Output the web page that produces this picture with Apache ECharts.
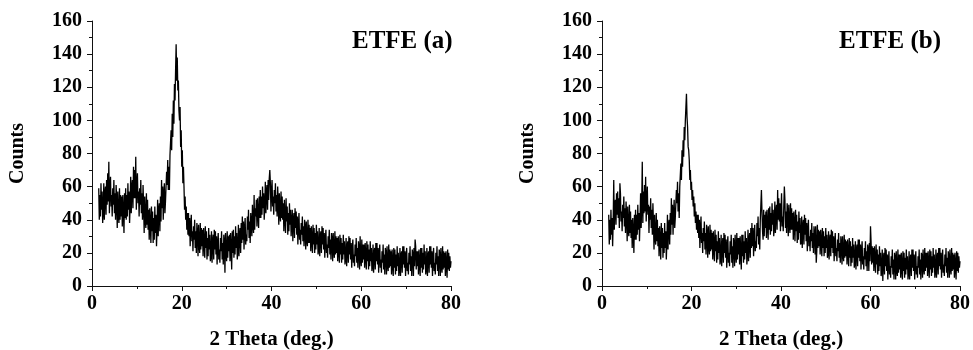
<!DOCTYPE html>
<html>
<head>
<meta charset="utf-8">
<script src="https://cdn.jsdelivr.net/npm/echarts@6/dist/echarts.min.js"></script>
<style>
  html, body { margin: 0; padding: 0; background: #fff; }
  #chart { width: 973px; height: 350px; }
</style>
</head>
<body>
<div id="chart"></div>
<script>
// XRD scans: 2-theta sampled from 1.5 deg in 0.125 deg steps, one row per degree
const thetaStart = 1.5;
const thetaStep = 0.125;

const xTicks = [0, 20, 40, 60, 80];
const yTicks = [0, 20, 40, 60, 80, 100, 120, 140, 160];

const panelTitles = ['ETFE (a)', 'ETFE (b)'];
const xAxisTitle = '2 Theta (deg.)';
const yAxisTitle = 'Counts';

const countsA = [
  59, 40, 55, 42, 62, 46, 57, 38,
  45, 62, 40, 56, 60, 43, 64, 49,
  68, 51, 75, 44, 59, 66, 48, 55,
  42, 59, 49, 64, 44, 56, 40, 61,
  52, 35, 57, 43, 38, 59, 40, 55,
  42, 54, 36, 55, 45, 32, 56, 41,
  59, 40, 55, 42, 62, 46, 57, 38,
  49, 66, 44, 60, 64, 47, 72, 53,
  70, 53, 78, 46, 61, 68, 50, 57,
  42, 59, 49, 64, 44, 56, 40, 61,
  49, 32, 54, 40, 35, 56, 37, 52,
  34, 46, 28, 47, 37, 26, 48, 33,
  45, 26, 41, 28, 48, 32, 43, 24,
  35, 52, 30, 46, 50, 33, 54, 39,
  64, 47, 60, 40, 55, 62, 44, 51,
  52, 69, 61, 76, 58, 72, 58, 79,
  78, 94, 82, 104, 90, 112, 98, 122,
  112, 130, 146, 124, 138, 118, 124, 106,
  100, 108, 84, 94, 72, 82, 62, 72,
  60, 46, 54, 40, 48, 34, 44, 31,
  44, 30, 41, 24, 36, 43, 27, 33,
  21, 36, 28, 40, 23, 33, 20, 38,
  32, 18, 37, 25, 20, 38, 22, 35,
  24, 34, 18, 35, 26, 17, 36, 23,
  33, 16, 29, 18, 35, 22, 31, 15,
  18, 33, 14, 27, 31, 16, 34, 22,
  33, 19, 30, 13, 25, 32, 16, 22,
  14, 29, 21, 33, 16, 26, 13, 31,
  27, 8, 32, 20, 15, 33, 17, 30,
  21, 31, 15, 32, 23, 10, 33, 20,
  34, 17, 30, 19, 36, 23, 32, 16,
  22, 37, 18, 31, 35, 20, 38, 26,
  42, 28, 39, 22, 34, 41, 25, 31,
  27, 42, 34, 46, 29, 39, 26, 44,
  44, 30, 49, 37, 32, 55, 34, 47,
  42, 52, 36, 53, 44, 35, 54, 41,
  58, 41, 54, 43, 60, 47, 56, 40,
  48, 63, 44, 57, 61, 46, 64, 52,
  65, 70, 62, 45, 57, 64, 48, 54,
  43, 58, 50, 62, 45, 55, 42, 60,
  51, 37, 56, 44, 39, 57, 41, 54,
  40, 50, 33, 52, 42, 32, 53, 39,
  48, 31, 44, 33, 50, 37, 46, 30,
  31, 46, 27, 40, 44, 29, 47, 35,
  45, 31, 42, 25, 37, 44, 28, 34,
  25, 38, 31, 42, 27, 36, 24, 40,
  35, 22, 39, 28, 24, 40, 26, 37,
  26, 35, 21, 36, 28, 20, 37, 25,
  35, 20, 32, 22, 37, 25, 33, 19,
  22, 35, 18, 30, 33, 20, 36, 25,
  35, 22, 32, 17, 28, 34, 20, 25,
  17, 30, 23, 34, 19, 28, 16, 32,
  28, 15, 32, 21, 17, 33, 19, 30,
  20, 29, 15, 30, 22, 14, 31, 19,
  29, 14, 26, 16, 31, 19, 27, 13,
  16, 29, 12, 24, 27, 14, 30, 19,
  29, 16, 26, 11, 22, 28, 14, 19,
  12, 25, 18, 29, 14, 23, 11, 27,
  23, 10, 30, 16, 12, 28, 14, 25,
  16, 25, 11, 26, 18, 10, 27, 15,
  25, 10, 22, 12, 27, 15, 23, 9,
  12, 25, 8, 20, 23, 10, 26, 15,
  26, 13, 23, 8, 19, 25, 11, 16,
  8, 21, 14, 25, 10, 19, 7, 23,
  20, 7, 24, 13, 9, 25, 11, 22,
  12, 21, 7, 22, 14, 6, 23, 11,
  22, 7, 19, 9, 24, 12, 20, 6,
  10, 23, 6, 18, 21, 8, 24, 13,
  24, 11, 21, 6, 17, 23, 9, 14,
  7, 20, 13, 24, 9, 18, 6, 22,
  19, 6, 23, 12, 28, 24, 10, 21,
  12, 21, 7, 22, 14, 6, 23, 11,
  23, 8, 20, 10, 25, 13, 21, 7,
  10, 23, 6, 18, 21, 8, 24, 13,
  24, 11, 21, 6, 17, 23, 9, 14,
  7, 20, 13, 24, 9, 18, 6, 22,
  19, 6, 23, 12, 8, 24, 10, 21,
  11, 20, 6, 21, 13, 5, 22, 10,
  20, 9, 18, 11, 15
];

const countsB = [
  43, 25, 40, 28, 46, 31, 41, 24,
  39, 64, 34, 49, 52, 37, 56, 43,
  57, 41, 53, 35, 62, 56, 39, 45,
  33, 49, 41, 54, 36, 47, 32, 51,
  43, 27, 48, 34, 30, 49, 32, 45,
  29, 40, 23, 41, 32, 20, 43, 28,
  46, 28, 43, 31, 49, 34, 44, 27,
  40, 56, 35, 50, 75, 38, 57, 44,
  61, 45, 66, 39, 52, 60, 43, 49,
  32, 48, 40, 53, 35, 46, 31, 50,
  38, 22, 43, 29, 25, 44, 27, 40,
  24, 35, 18, 36, 27, 16, 38, 23,
  35, 17, 32, 20, 38, 23, 33, 16,
  27, 43, 22, 37, 40, 25, 44, 31,
  53, 37, 49, 31, 44, 52, 35, 41,
  42, 58, 50, 63, 45, 56, 41, 60,
  60, 74, 64, 82, 72, 88, 78, 96,
  88, 100, 108, 116, 102, 96, 84, 82,
  76, 64, 70, 58, 63, 52, 58, 48,
  54, 42, 50, 38, 45, 34, 43, 32,
  43, 29, 40, 23, 35, 42, 26, 32,
  20, 35, 27, 39, 22, 32, 19, 37,
  31, 17, 36, 24, 19, 37, 21, 34,
  22, 32, 16, 33, 24, 15, 34, 21,
  31, 14, 27, 16, 33, 20, 29, 13,
  16, 31, 12, 25, 29, 14, 32, 20,
  31, 17, 28, 11, 23, 30, 14, 20,
  12, 27, 19, 31, 14, 24, 11, 29,
  26, 12, 31, 19, 14, 32, 16, 29,
  19, 29, 13, 30, 21, 10, 31, 18,
  31, 14, 27, 16, 33, 20, 29, 13,
  19, 34, 15, 28, 32, 17, 35, 23,
  38, 24, 35, 18, 30, 37, 21, 27,
  23, 38, 30, 42, 25, 35, 22, 40,
  40, 58, 45, 33, 28, 46, 30, 43,
  35, 45, 29, 46, 37, 28, 47, 34,
  48, 31, 44, 33, 50, 37, 46, 30,
  36, 51, 32, 45, 49, 34, 58, 40,
  53, 39, 50, 33, 45, 56, 36, 42,
  33, 48, 60, 52, 35, 45, 32, 50,
  44, 30, 49, 37, 32, 50, 34, 47,
  34, 44, 28, 45, 36, 27, 46, 33,
  43, 26, 39, 28, 45, 32, 41, 25,
  27, 42, 23, 36, 40, 25, 43, 31,
  41, 27, 38, 21, 33, 40, 24, 30,
  21, 34, 27, 38, 23, 32, 20, 36,
  32, 19, 36, 14, 21, 37, 23, 34,
  24, 33, 19, 34, 26, 18, 35, 23,
  33, 18, 30, 20, 35, 23, 31, 17,
  20, 33, 16, 28, 31, 18, 34, 23,
  33, 20, 30, 15, 26, 32, 18, 23,
  15, 28, 21, 32, 17, 26, 14, 30,
  26, 13, 30, 19, 15, 31, 17, 28,
  18, 27, 13, 28, 20, 12, 29, 17,
  27, 12, 24, 14, 29, 17, 25, 11,
  14, 27, 10, 22, 25, 12, 28, 17,
  28, 15, 25, 10, 21, 27, 13, 18,
  10, 23, 16, 27, 12, 21, 9, 25,
  22, 9, 26, 15, 36, 27, 13, 24,
  14, 23, 9, 24, 16, 8, 25, 13,
  22, 7, 19, 9, 24, 12, 20, 6,
  9, 22, 3, 17, 20, 7, 23, 12,
  22, 9, 19, 4, 15, 21, 7, 12,
  5, 18, 11, 22, 7, 16, 4, 20,
  17, 4, 21, 10, 6, 22, 8, 19,
  10, 19, 5, 20, 12, 4, 21, 9,
  20, 5, 17, 7, 22, 10, 18, 4,
  8, 21, 4, 16, 19, 6, 22, 11,
  22, 9, 19, 4, 15, 21, 7, 12,
  5, 18, 11, 22, 7, 16, 4, 20,
  18, 5, 22, 11, 7, 23, 9, 20,
  11, 20, 6, 21, 13, 5, 22, 10,
  21, 6, 18, 8, 23, 11, 19, 5,
  9, 22, 5, 17, 20, 7, 23, 12,
  23, 10, 20, 5, 16, 22, 8, 13,
  6, 19, 12, 23, 8, 17, 5, 21,
  18, 5, 22, 11, 7, 23, 9, 20,
  10, 19, 5, 20, 12, 4, 21, 9,
  20, 8, 18, 11, 15
];

const FONT = '"Liberation Serif", "Times New Roman", serif';

function toPairs(counts) {
  return counts.map((c, i) => [thetaStart + i * thetaStep, c]);
}

function xAxisFor(gridIndex) {
  return {
    gridIndex,
    type: 'value',
    min: xTicks[0],
    max: xTicks[xTicks.length - 1],
    interval: xTicks[1] - xTicks[0],
    name: xAxisTitle,
    nameLocation: 'middle',
    nameGap: 43,
    nameTextStyle: { fontFamily: FONT, fontWeight: 'bold', fontSize: 21, color: '#000' },
    axisLine: { lineStyle: { color: '#111', width: 1 } },
    axisTick: { inside: false, length: 5, lineStyle: { color: '#111' } },
    minorTick: { show: true, splitNumber: 2, length: 3, lineStyle: { color: '#111' } },
    axisLabel: { fontFamily: FONT, fontWeight: 'bold', fontSize: 20, color: '#000', margin: 8 },
    splitLine: { show: false },
    minorSplitLine: { show: false }
  };
}

function yAxisFor(gridIndex) {
  return {
    gridIndex,
    type: 'value',
    min: yTicks[0],
    max: yTicks[yTicks.length - 1],
    interval: yTicks[1] - yTicks[0],
    name: yAxisTitle,
    nameLocation: 'middle',
    nameGap: 64,
    nameRotate: 90,
    nameTextStyle: { fontFamily: FONT, fontWeight: 'bold', fontSize: 20, color: '#000' },
    axisLine: { show: true, lineStyle: { color: '#111', width: 1 } },
    axisTick: { show: true, inside: false, length: 5, lineStyle: { color: '#111' } },
    minorTick: { show: true, splitNumber: 2, length: 3, lineStyle: { color: '#111' } },
    axisLabel: { fontFamily: FONT, fontWeight: 'bold', fontSize: 20, color: '#000', margin: 10 },
    splitLine: { show: false },
    minorSplitLine: { show: false }
  };
}

function scanSeries(idx, counts) {
  return {
    type: 'line',
    xAxisIndex: idx,
    yAxisIndex: idx,
    data: toPairs(counts),
    showSymbol: false,
    symbol: 'none',
    sampling: null,
    lineStyle: { color: '#000', width: 1.3 },
    silent: true
  };
}

const chart = echarts.init(document.getElementById('chart'), null, { renderer: 'canvas' });
chart.setOption({
  animation: false,
  backgroundColor: '#fff',
  title: [
    { text: panelTitles[0], left: 352, top: 29, padding: 0,
      textStyle: { fontFamily: FONT, fontWeight: 'bold', fontSize: 25, color: '#000' } },
    { text: panelTitles[1], left: 839, top: 29, padding: 0,
      textStyle: { fontFamily: FONT, fontWeight: 'bold', fontSize: 25, color: '#000' } }
  ],
  grid: [
    { left: 92, top: 21, width: 359, height: 265, containLabel: false, outerBoundsMode: 'none' },
    { left: 602, top: 21, width: 358, height: 265, containLabel: false, outerBoundsMode: 'none' }
  ],
  xAxis: [xAxisFor(0), xAxisFor(1)],
  yAxis: [yAxisFor(0), yAxisFor(1)],
  series: [scanSeries(0, countsA), scanSeries(1, countsB)]
});
</script>
</body>
</html>
